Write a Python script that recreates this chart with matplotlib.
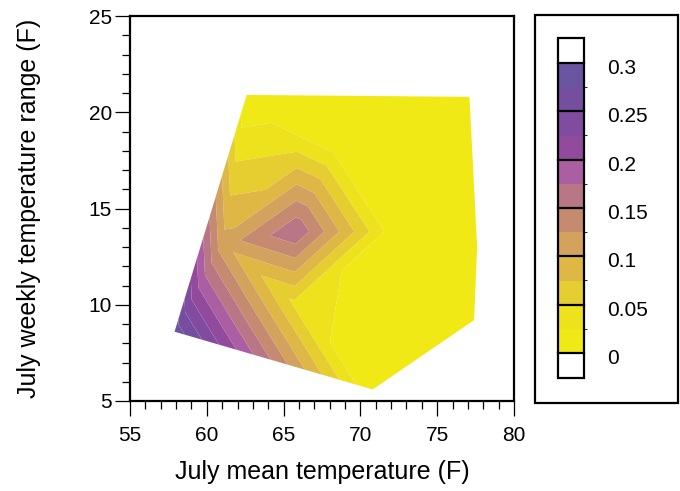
import matplotlib
matplotlib.use('Agg')
import matplotlib.pyplot as plt
import matplotlib.tri as mtri
from matplotlib.colors import ListedColormap, BoundaryNorm
from matplotlib.patches import Rectangle
from matplotlib.transforms import ScaledTranslation

plt.rcParams['font.family'] = ['Liberation Sans', 'DejaVu Sans']

# Irregular sample points (July mean temperature, July weekly range) and values
mean_temp = [57.9, 62.6, 77.1, 77.6, 77.4, 70.8, 65.8, 65.85, 61.0, 72.5, 65.7, 68.6]
temp_range = [8.6, 20.9, 20.8, 13.0, 9.2, 5.6, 13.8, 17.95, 13.2, 13.8, 10.1, 18.6]
value = [0.29, 0.001, 0.001, 0.001, 0.001, 0.001, 0.172, 0.05, 0.11, 0.001, 0.045, 0.001]

levels = [0, 0.025, 0.05, 0.075, 0.1, 0.125, 0.15, 0.175, 0.2, 0.225, 0.25, 0.275, 0.3]
band_colors = ['#f0e916', '#ede21c', '#e6cd30', '#deb745', '#d3a25c', '#c58a70',
               '#b97785', '#ac5ea2', '#924b9c', '#814c9f', '#764ea0', '#6a55a3']
cbar_ticks = [0, 0.05, 0.1, 0.15, 0.2, 0.25, 0.3]
cbar_labels = ['0', '0.05', '0.1', '0.15', '0.2', '0.25', '0.3']
xticks = [55, 60, 65, 70, 75, 80]
yticks = [5, 10, 15, 20, 25]

W, H = 680, 491
fig = plt.figure(figsize=(W / 100, H / 100), dpi=100)

def px_axes(x0, y0, x1, y1):
    return fig.add_axes([x0 / W, 1 - y1 / H, (x1 - x0) / W, (y1 - y0) / H])

ax = px_axes(130, 16, 514, 401)

cmap = ListedColormap(band_colors)
cmap.set_under('white')
cmap.set_over('white')
norm = BoundaryNorm(levels, cmap.N)

tri = mtri.Triangulation(mean_temp, temp_range)
cs = ax.tricontourf(tri, value, levels=levels, cmap=cmap, norm=norm, extend='both',
                    antialiased=True)

ax.set_xlim(55, 80)
ax.set_ylim(5, 25)
ax.set_xticks(xticks)
ax.set_yticks(yticks)
ax.set_xticks(range(55, 81), minor=True)
ax.set_yticks(range(5, 26), minor=True)
for s in ax.spines.values():
    s.set_linewidth(1.6)
ax.tick_params(which='major', direction='out', length=11, width=0.9, labelsize=15)
ax.tick_params(which='minor', direction='out', length=5.5, width=0.9)
ax.tick_params(axis='x', which='major', pad=7)
ax.tick_params(axis='y', which='major', pad=2)
ax.set_xlabel('July mean temperature (F)', fontsize=18, labelpad=11)
ax.set_ylabel('July weekly temperature range (F)', fontsize=18, labelpad=34)

# colorbar
cax = px_axes(558, 38, 584, 378)
cb = fig.colorbar(cs, cax=cax, extend='both', extendrect=True,
                  extendfrac=25 / 290, ticks=cbar_ticks)
cb.ax.set_yticklabels(cbar_labels)
cb.ax.tick_params(length=0, labelsize=15, pad=17)
cb.outline.set_linewidth(1.6)
for t in cbar_ticks:
    cb.ax.axhline(t, color='black', lw=1.6, clip_on=False)
shift = ScaledTranslation(0, -0.035, fig.dpi_scale_trans)
for lab in cb.ax.get_yticklabels():
    lab.set_transform(lab.get_transform() + shift)

fig.patches.append(Rectangle((535 / W, 1 - 403 / H), 143 / W, 388 / H, fill=False,
                             lw=1.6, edgecolor='black', transform=fig.transFigure))

fig.savefig('out.png', dpi=100)
